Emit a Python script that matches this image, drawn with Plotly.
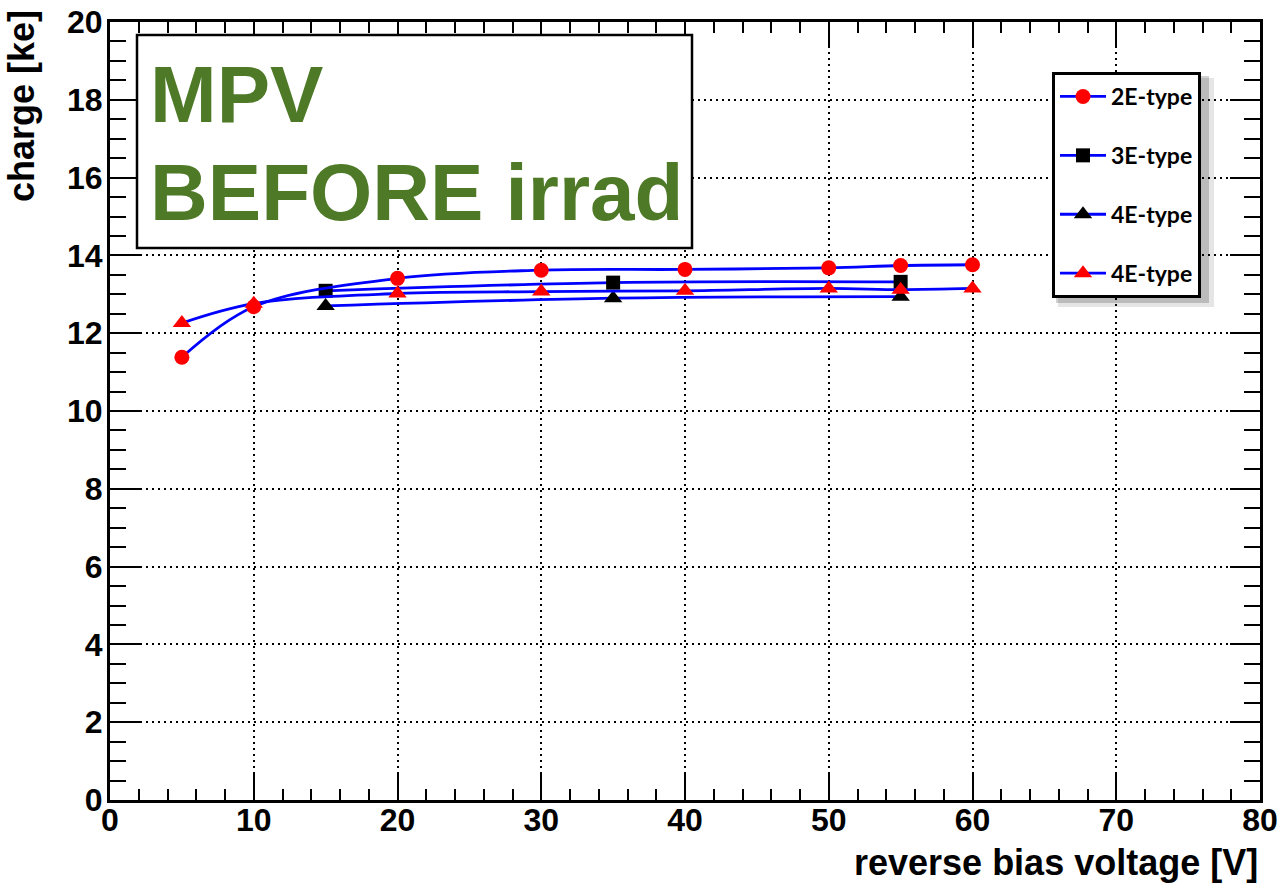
import plotly.graph_objects as go

# ---- data ----
x_2e = [5, 10, 20, 30, 40, 50, 55, 60]
y_2e = [11.38, 12.68, 13.41, 13.62, 13.64, 13.68, 13.74, 13.76]

x_3e = [15, 35, 55]
y_3e = [13.09, 13.30, 13.32]

x_4e_black = [15, 35, 55]
y_4e_black = [12.70, 12.90, 12.94]

x_4e_red = [5, 10, 20, 30, 40, 50, 55, 60]
y_4e_red = [12.26, 12.76, 13.02, 13.07, 13.09, 13.15, 13.12, 13.15]

series_names = ["2E-type", "3E-type", "4E-type", "4E-type"]

x_title = "reverse bias voltage [V]"
y_title = "charge [ke]"
box_lines = ["MPV", "BEFORE irrad"]

BLUE = "#0000ff"
RED = "#ff0000"
GREEN = "#4e7a27"
FONT = "Liberation Sans"

fig = go.Figure()

def add(xs, ys, name, symbol, color, size, rank):
    fig.add_trace(go.Scatter(
        x=xs, y=ys, name=name, mode="lines+markers",
        line=dict(color=BLUE, width=2.8, shape="spline", smoothing=1.0),
        marker=dict(symbol=symbol, color=color, size=size, line=dict(width=0)),
        legendgroup=name + str(rank), legendrank=rank,
    ))

# draw order: squares, black triangles, red triangles, circles on top
add(x_3e, y_3e, series_names[1], "square", "black", 14, 2)
add(x_4e_black, y_4e_black, series_names[2], "triangle-up", "black", 16, 3)
add(x_4e_red, y_4e_red, series_names[3], "triangle-up", RED, 16, 4)
add(x_2e, y_2e, series_names[0], "circle", RED, 15, 1)

axis_common = dict(
    showline=True, linecolor="black", linewidth=3, mirror="ticks",
    ticks="inside", tickcolor="black", tickwidth=2,
    showgrid=True, gridcolor="black", griddash="2px,4px", gridwidth=1.6,
    zeroline=False, automargin=False,
    tickfont=dict(family=FONT, size=32, color="black", weight="bold"),
)

fig.update_xaxes(
    range=[0, 80], dtick=10, tick0=0, ticklen=26, ticklabelstandoff=-10,
    minor=dict(dtick=2, ticks="inside", ticklen=11, tickcolor="black", tickwidth=2, showgrid=False),
    **axis_common,
)
fig.update_yaxes(
    range=[0, 20], dtick=2, tick0=0, ticklen=30, ticklabelstandoff=-2,
    minor=dict(dtick=0.5, ticks="inside", ticklen=16, tickcolor="black", tickwidth=2, showgrid=False),
    **axis_common,
)

# text box with green label
fig.add_shape(type="rect", xref="paper", yref="paper",
              x0=(137 - 110) / 1150, x1=(692 - 110) / 1150,
              y0=(800 - 248) / 778, y1=(800 - 35) / 778,
              fillcolor="white", line=dict(color="black", width=2.5), layer="above")
fig.add_annotation(text=box_lines[0], xref="paper", yref="paper",
                   x=(148 - 110) / 1150, y=(800 - 95) / 778, xanchor="left", yanchor="middle",
                   showarrow=False, font=dict(family=FONT, size=80, color=GREEN, weight="bold"))
fig.add_annotation(text=box_lines[1], xref="paper", yref="paper",
                   x=(148 - 110) / 1150, y=(800 - 192) / 778, xanchor="left", yanchor="middle",
                   showarrow=False, font=dict(family=FONT, size=80, color=GREEN, weight="bold"))

# axis titles
fig.add_annotation(text=x_title, xref="paper", yref="paper",
                   x=1.0, y=(800 - 862) / 778, xanchor="right", yanchor="middle",
                   showarrow=False, font=dict(family=FONT, size=36, color="black", weight="bold"))
fig.add_annotation(text=y_title, xref="paper", yref="paper", textangle=-90,
                   x=(22 - 110) / 1150, y=(800 - 8) / 778, xanchor="center", yanchor="top",
                   showarrow=False, font=dict(family=FONT, size=36, color="black", weight="bold"))

# legend shadow (soft, two layers)
fig.add_shape(type="rect", xref="paper", yref="paper",
              x0=(1058 - 110) / 1150, x1=(1214 - 110) / 1150,
              y0=(800 - 307) / 778, y1=(800 - 78) / 778,
              fillcolor="rgba(0,0,0,0.10)", line=dict(width=0), layer="above")
fig.add_shape(type="rect", xref="paper", yref="paper",
              x0=(1056 - 110) / 1150, x1=(1209 - 110) / 1150,
              y0=(800 - 303) / 778, y1=(800 - 76) / 778,
              fillcolor="rgba(0,0,0,0.18)", line=dict(width=0), layer="above")

fig.update_layout(
    width=1285, height=892,
    margin=dict(l=110, r=25, t=22, b=92),
    paper_bgcolor="white", plot_bgcolor="white",
    showlegend=True,
    legend=dict(
        x=(1052 - 110) / 1150, y=(800 - 72) / 778, xanchor="left", yanchor="top",
        bgcolor="white", bordercolor="black", borderwidth=3,
        font=dict(family="Lato", size=23, color="black", weight="bold"),
        tracegroupgap=26, itemwidth=46, traceorder="grouped",
    ),
)

fig.write_html("out.html")
